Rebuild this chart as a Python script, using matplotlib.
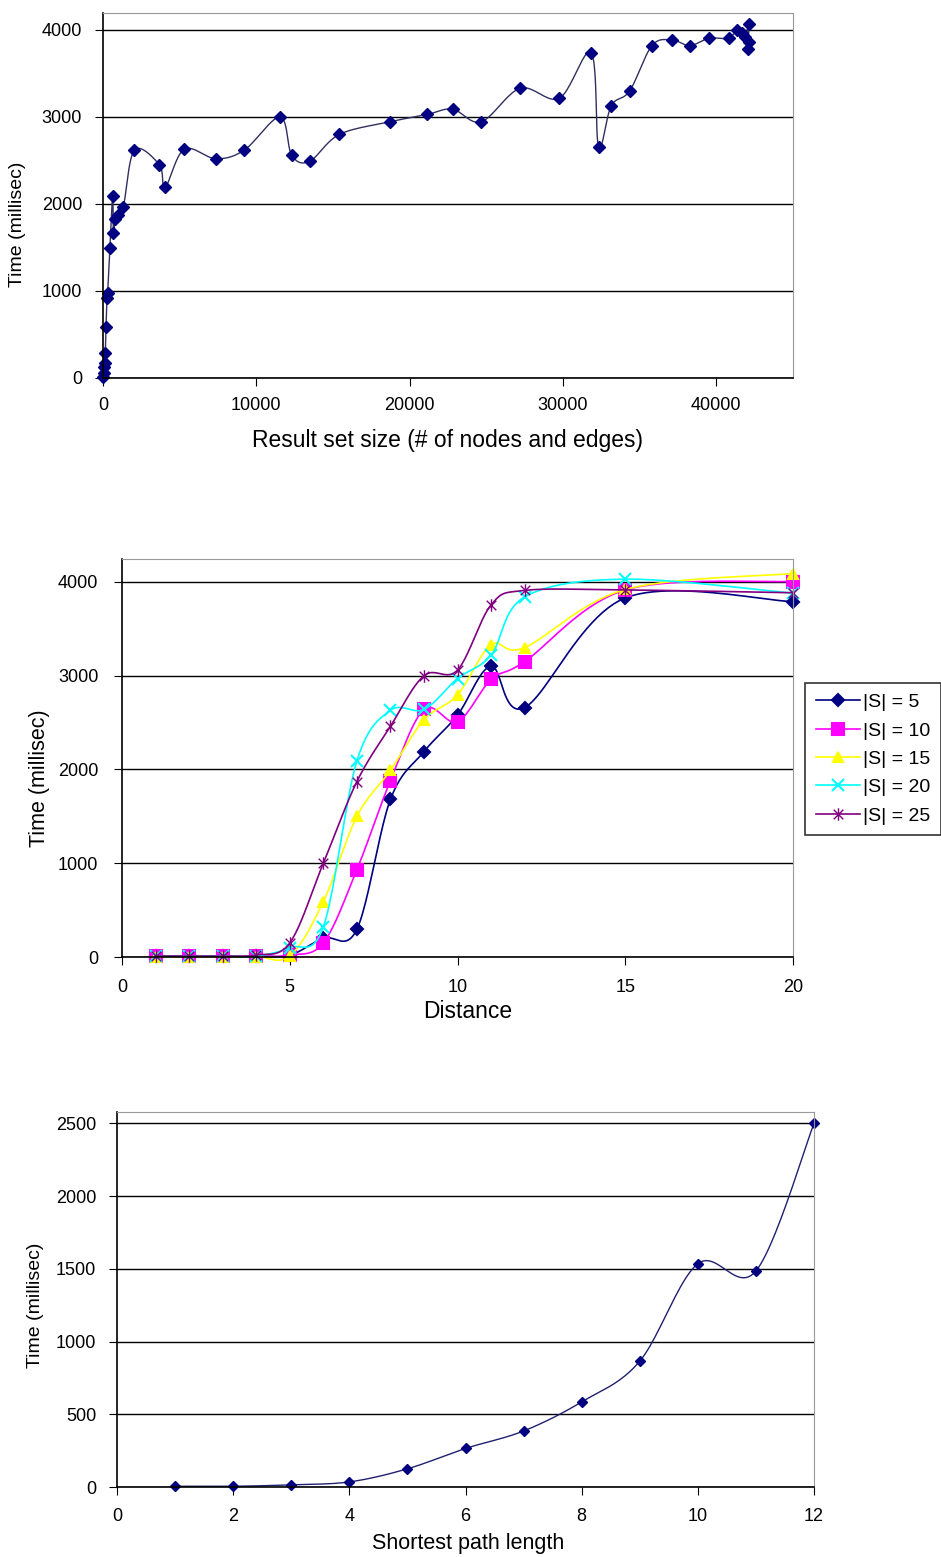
import numpy as np
import matplotlib
matplotlib.use('Agg')
import matplotlib.pyplot as plt
from matplotlib.path import Path

plt.rcParams['font.family'] = ['Liberation Sans', 'DejaVu Sans']

# chart 1: result set size vs time
size = [0, 50, 80, 120, 150, 200, 250, 300, 450, 630, 680, 800, 950, 1330,
        2050, 3680, 4050, 5300, 7370, 9220, 11550, 12310, 13470, 15420, 18730,
        21160, 22800, 24670, 27210, 29760, 31840, 32320, 33150, 34350, 35800,
        37110, 38260, 39540, 40800, 41350, 41650, 41900, 42100, 42100, 42050]
size_time = [10, 60, 130, 170, 290, 590, 920, 975, 1490, 2090, 1670, 1830, 1870, 1970,
             2620, 2450, 2190, 2630, 2520, 2620, 3000, 2560, 2490, 2800, 2945,
             3030, 3090, 2945, 3330, 3215, 3740, 2650, 3130, 3300, 3820,
             3885, 3820, 3905, 3905, 4005, 3960, 3920, 4070, 3865, 3780]

# chart 2: distance vs time for several |S|
distance = [1, 2, 3, 4, 5, 6, 7, 8, 9, 10, 11, 12, 15, 20]
s_labels = ['|S| = 5', '|S| = 10', '|S| = 15', '|S| = 20', '|S| = 25']
s5 = [10, 10, 10, 10, 20, 200, 295, 1680, 2190, 2580, 3100, 2660, 3830, 3790]
s10 = [10, 10, 10, 10, 20, 150, 930, 1880, 2640, 2510, 2960, 3150, 3915, 4005]
s15 = [5, 5, 5, 5, 10, 590, 1500, 1990, 2530, 2795, 3330, 3300, 3920, 4090]
s20 = [10, 10, 10, 10, 100, 320, 2090, 2630, 2640, 2970, 3220, 3840, 4030, 3880]
s25 = [10, 10, 10, 20, 150, 1000, 1870, 2460, 3000, 3060, 3755, 3910, 3915, 3885]

# chart 3: shortest path length vs time
path_len = [1, 2, 3, 4, 5, 6, 7, 8, 9, 10, 11, 12]
path_time = [5, 5, 15, 35, 125, 265, 385, 585, 865, 1535, 1485, 2500]

W, H = 941, 1557
fig = plt.figure(figsize=(W / 100, H / 100), dpi=100)


def px_axes(l, t, r, b):
    return fig.add_axes([l / W, 1 - b / H, (r - l) / W, (b - t) / H])


def style(ax, ypad, xpad):
    ax.grid(axis='y', color='black', lw=1)
    ax.set_axisbelow(True)
    for s in ['top', 'right']:
        ax.spines[s].set_color('#999999')
    for s in ['left', 'bottom']:
        ax.spines[s].set_color('black')
        ax.spines[s].set_linewidth(1.2)
    ax.tick_params(axis='y', direction='out', length=6, pad=ypad, labelsize=13)
    ax.tick_params(axis='x', direction='out', length=6, pad=xpad, labelsize=13)


def smooth(ax, x, y, n=24):
    # excel-like smoothed line (catmull-rom bezier in screen space)
    p = ax.transData.transform(np.column_stack([x, y]))
    out = []
    m = len(p)
    t = np.linspace(0, 1, n)[:, None]
    for i in range(m - 1):
        p0 = p[i - 1] if i > 0 else p[i]
        p1 = p[i]
        p2 = p[i + 1]
        p3 = p[i + 2] if i + 2 < m else p[i + 1]
        c1 = p1 + (p2 - p0) / 6
        c2 = p2 - (p3 - p1) / 6
        seg = (1 - t) ** 3 * p1 + 3 * (1 - t) ** 2 * t * c1 + 3 * (1 - t) * t ** 2 * c2 + t ** 3 * p2
        out.append(seg)
    out = ax.transData.inverted().transform(np.vstack(out))
    return out[:, 0], out[:, 1]


# ---- chart 1
ax1 = px_axes(103, 13, 793, 378)
ax1.set_xlim(0, 45000)
ax1.set_ylim(0, 4195)
ax1.set_xticks(range(0, 45000, 10000))
ax1.set_yticks(range(0, 4001, 1000))
style(ax1, 9, 8)
sx, sy = smooth(ax1, size, size_time)
ax1.plot(sx, sy, color='#303060', lw=1, clip_on=False)
ax1.plot(size, size_time, ls='none', marker='D', ms=6, color='#000080', clip_on=False)
fig.text(448 / W, 1 - 440 / H, 'Result set size (# of nodes and edges)', ha='center', va='center', fontsize=16.5)
fig.text(18 / W, 1 - 224 / H, 'Time (millisec)', ha='center', va='center', rotation=90, fontsize=14)

# ---- chart 2
ax2 = px_axes(122, 559, 793, 957)
ax2.set_xlim(0, 20)
ax2.set_ylim(0, 4245)
ax2.set_xticks(range(0, 21, 5))
ax2.set_yticks(range(0, 4001, 1000))
style(ax2, 11, 10)
star = Path([(-1, -1), (1, 1), (-1, 1), (1, -1), (0, -1.3), (0, 1.3)],
            [Path.MOVETO, Path.LINETO, Path.MOVETO, Path.LINETO, Path.MOVETO, Path.LINETO])
series = [s5, s10, s15, s20, s25]
colors = ['#000080', '#FF00FF', '#FFFF00', '#00FFFF', '#800080']
markers = ['D', 's', '^', 'x', star]
sizes = [6, 9, 7, 8, 9]
handles = []
for vals, c, mk, ms, lab in zip(series, colors, markers, sizes, s_labels):
    sx, sy = smooth(ax2, distance, vals)
    ax2.plot(sx, sy, color=c, lw=1.2, clip_on=False)
    if mk is star:
        ax2.plot(distance, vals, ls='none', marker=mk, ms=ms, mfc='none', mec=c, mew=1, clip_on=False)
        h, = ax2.plot([], [], color=c, lw=1.2, marker=mk, ms=ms, mfc='none', mec=c, mew=1)
    else:
        ax2.plot(distance, vals, ls='none', marker=mk, ms=ms, color=c, mew=1.5, clip_on=False)
        h, = ax2.plot([], [], color=c, lw=1.2, marker=mk, ms=ms, mew=1.5)
    handles.append(h)
leg = fig.legend(handles, s_labels, loc='upper left', bbox_to_anchor=(805 / W, 1 - 683 / H),
                 fontsize=14, frameon=True, fancybox=False, edgecolor='black',
                 handlelength=2.3, handletextpad=0.15, labelspacing=0.55, borderpad=0.55,
                 borderaxespad=0)
leg.get_frame().set_linewidth(1.2)
fig.text(468 / W, 1 - 1012 / H, 'Distance', ha='center', va='center', fontsize=16.5)
fig.text(40 / W, 1 - 778 / H, 'Time (millisec)', ha='center', va='center', rotation=90, fontsize=15.5)

# ---- chart 3
ax3 = px_axes(117, 1112, 814, 1487)
ax3.set_xlim(0, 12)
ax3.set_ylim(0, 2578)
ax3.set_xticks(range(0, 13, 2))
ax3.set_yticks(range(0, 2501, 500))
style(ax3, 9, 9)
sx, sy = smooth(ax3, path_len, path_time)
ax3.plot(sx, sy, color='#202070', lw=1, clip_on=False)
ax3.plot(path_len, path_time, ls='none', marker='D', ms=5.5, color='#000080', clip_on=False)
fig.text(468 / W, 1 - 1543 / H, 'Shortest path length', ha='center', va='center', fontsize=15.5)
fig.text(35 / W, 1 - 1305 / H, 'Time (millisec)', ha='center', va='center', rotation=90, fontsize=14)

fig.savefig('out.png', dpi=100)
